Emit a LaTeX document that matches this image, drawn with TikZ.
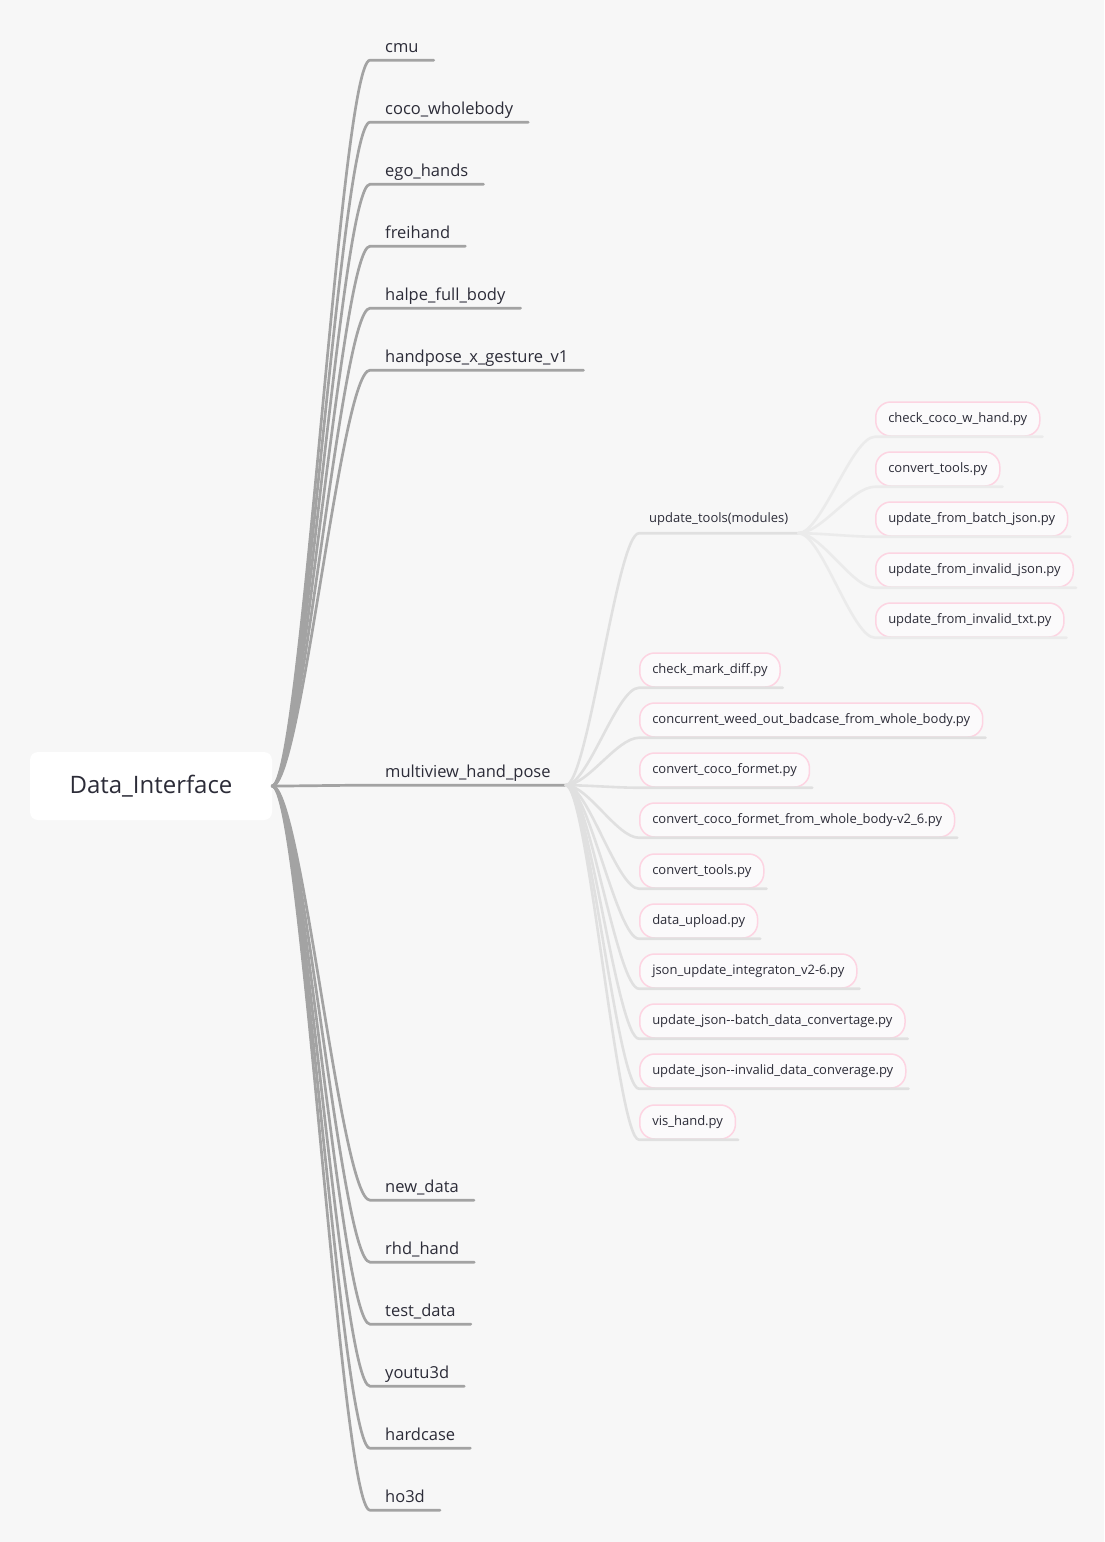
\documentclass[tikz,border=0pt]{standalone}
\usepackage{fontspec}
\setmainfont{Open Sans}
\usetikzlibrary{calc}
\definecolor{bgc}{HTML}{F7F7F7}
\definecolor{txtc}{HTML}{2C2C38}
\definecolor{lonec}{HTML}{A3A3A3}
\definecolor{ltwoc}{HTML}{E0E0E0}
\definecolor{lthreec}{HTML}{EBEBEB}
\definecolor{pinkc}{HTML}{FDD4E2}
\definecolor{boxfill}{HTML}{FBFAFB}
\tikzset{
  rootbox/.style={fill=white, rounded corners=8pt, minimum width=242pt, minimum height=68pt, inner sep=0pt,
    font=\fontsize{24}{28}\selectfont, text=txtc},
  lone/.style={anchor=west, inner xsep=15pt, inner ysep=0pt, minimum height=24pt, text height=12pt, text depth=4pt,
    font=\fontsize{16.5}{20}\selectfont, text=txtc},
  ltwoplain/.style={anchor=west, inner xsep=10pt, inner ysep=0pt, minimum height=28pt, text height=9.5pt, text depth=3pt,
    font=\fontsize{13}{16}\selectfont, text=txtc},
  pinkbox/.style={anchor=west, draw=pinkc, line width=1.5pt, fill=boxfill, rounded corners=15pt, inner xsep=12.5pt, inner ysep=0pt,
    minimum height=34pt, text height=9.5pt, text depth=3pt, font=\fontsize{13}{16}\selectfont, text=txtc},
  conone/.style={draw=lonec, line width=2.7pt, line cap=round},
  contwo/.style={draw=ltwoc, line width=2.6pt, line cap=round},
  conthree/.style={draw=lthreec, line width=2.6pt, line cap=round},
}
% #1 style, #2 start coordinate, #3 target node, #4 extension beyond target east
\newcommand\mmconn[4]{%
  \draw[#1] let \p1=(#2), \p2=(#3.south west) in
    (\p1) .. controls ({\x1+0.3*(\x2-\x1)},\y1) and ({\x2-0.3*(\x2-\x1)},\y2) .. (\p2)
    -- ([xshift=#4]#3.south east);}
\begin{document}
\begin{tikzpicture}[x=1pt,y=-1pt]
\fill[bgc] (0,0) rectangle (1104,1542);
\useasboundingbox (0,0) rectangle (1104,1542);

\node[rootbox] (root) at (151,786) {Data\_Interface};

% level 1
\node[lone] (cmu)   at (370,48)   {cmu};
\node[lone] (coco)  at (370,110)  {coco\_wholebody};
\node[lone] (ego)   at (370,172)  {ego\_hands};
\node[lone] (frei)  at (370,234)  {freihand};
\node[lone] (halpe) at (370,296)  {halpe\_full\_body};
\node[lone] (hpx)   at (370,358)  {handpose\_x\_gesture\_v1};
\node[lone] (mv)    at (370,773)  {multiview\_hand\_pose};
\node[lone] (newd)  at (370,1188) {new\_data};
\node[lone] (rhd)   at (370,1250) {rhd\_hand};
\node[lone] (test)  at (370,1312) {test\_data};
\node[lone] (youtu) at (370,1374) {youtu3d};
\node[lone] (hard)  at (370,1436) {hardcase};
\node[lone] (ho)    at (370,1498) {ho3d};

\foreach \q in {cmu,coco,ego,frei,halpe,hpx,mv,newd,rhd,test,youtu,hard,ho}
  {\mmconn{conone}{root.east}{\q}{0pt}}

% level 2
\coordinate (mvend) at (mv.south east);
\node[ltwoplain] (upd) at (639,519) {update\_tools(modules)};
\node[pinkbox] (cmd)  at (639,670)  {check\_mark\_diff.py};
\node[pinkbox] (cwo)  at (639,720)  {concurrent\_weed\_out\_badcase\_from\_whole\_body.py};
\node[pinkbox] (ccf)  at (639,770)  {convert\_coco\_formet.py};
\node[pinkbox] (ccfw) at (639,820)  {convert\_coco\_formet\_from\_whole\_body-v2\_6.py};
\node[pinkbox] (ct)   at (639,871)  {convert\_tools.py};
\node[pinkbox] (du)   at (639,921)  {data\_upload.py};
\node[pinkbox] (jui)  at (639,971)  {json\_update\_integraton\_v2-6.py};
\node[pinkbox] (ujb)  at (639,1021) {update\_json-{}-batch\_data\_convertage.py};
\node[pinkbox] (uji)  at (639,1071) {update\_json-{}-invalid\_data\_converage.py};
\node[pinkbox] (vh)   at (639,1122) {vis\_hand.py};

\mmconn{contwo}{mvend}{upd}{0pt}
\foreach \q in {cmd,cwo,ccf,ccfw,ct,du,jui,ujb,uji,vh}
  {\mmconn{contwo}{mvend}{\q}{2pt}}

% level 3
\coordinate (updend) at (upd.south east);
\node[pinkbox] (cch) at (875,419) {check\_coco\_w\_hand.py};
\node[pinkbox] (ctu) at (875,469) {convert\_tools.py};
\node[pinkbox] (ufb) at (875,519) {update\_from\_batch\_json.py};
\node[pinkbox] (ufi) at (875,570) {update\_from\_invalid\_json.py};
\node[pinkbox] (uft) at (875,620) {update\_from\_invalid\_txt.py};
\foreach \q in {cch,ctu,ufb,ufi,uft}
  {\mmconn{conthree}{updend}{\q}{2pt}}
\end{tikzpicture}
\end{document}
